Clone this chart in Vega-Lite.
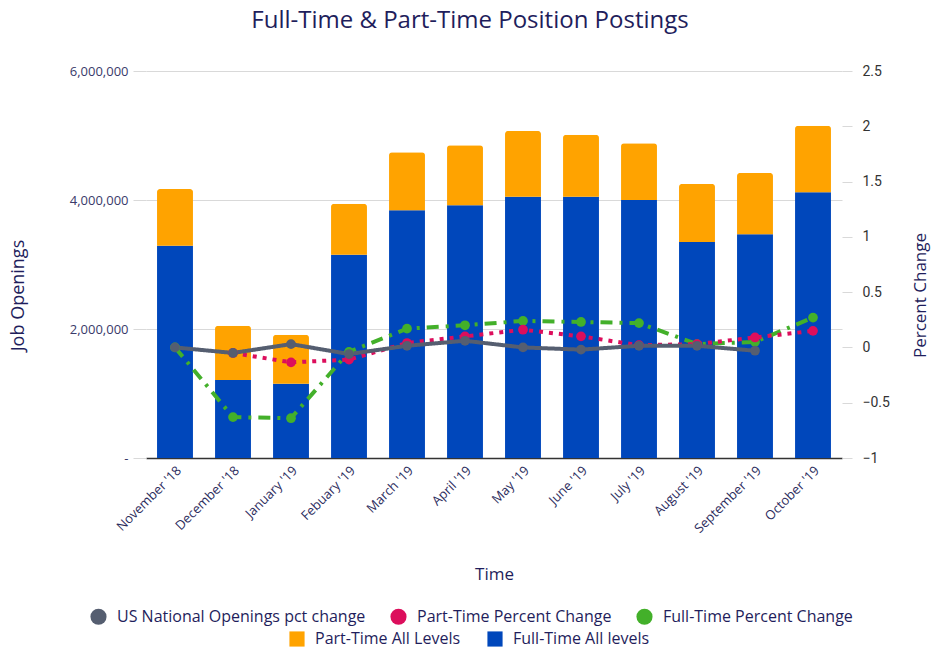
{
  "$schema": "https://vega.github.io/schema/vega-lite/v6.json",
  "width": 696,
  "height": 387,
  "autosize": {"type": "none"},
  "padding": {"left": 146, "top": 71, "right": 91, "bottom": 192},
  "background": "white",
  "config": {"view": {"stroke": null}, "font": "Open Sans"},
  "title": {"text": "Full-Time & Part-Time Position Postings", "fontSize": 24, "font": "Open Sans", "fontWeight": "normal", "color": "#1f1e5c", "offset": 31, "dx": -24, "anchor": "middle"},
  "datasets": {
    "bars": [
      {"month": "November '18", "type": "Full-Time All levels", "value": 3290000},
      {"month": "November '18", "type": "Part-Time All Levels", "value": 880000},
      {"month": "December '18", "type": "Full-Time All levels", "value": 1210000},
      {"month": "December '18", "type": "Part-Time All Levels", "value": 840000},
      {"month": "January '19", "type": "Full-Time All levels", "value": 1150000},
      {"month": "January '19", "type": "Part-Time All Levels", "value": 760000},
      {"month": "Febuary '19", "type": "Full-Time All levels", "value": 3150000},
      {"month": "Febuary '19", "type": "Part-Time All Levels", "value": 790000},
      {"month": "March '19", "type": "Full-Time All levels", "value": 3840000},
      {"month": "March '19", "type": "Part-Time All Levels", "value": 900000},
      {"month": "April '19", "type": "Full-Time All levels", "value": 3920000},
      {"month": "April '19", "type": "Part-Time All Levels", "value": 930000},
      {"month": "May '19", "type": "Full-Time All levels", "value": 4050000},
      {"month": "May '19", "type": "Part-Time All Levels", "value": 1020000},
      {"month": "June '19", "type": "Full-Time All levels", "value": 4050000},
      {"month": "June '19", "type": "Part-Time All Levels", "value": 960000},
      {"month": "July '19", "type": "Full-Time All levels", "value": 4000000},
      {"month": "July '19", "type": "Part-Time All Levels", "value": 880000},
      {"month": "August '19", "type": "Full-Time All levels", "value": 3350000},
      {"month": "August '19", "type": "Part-Time All Levels", "value": 900000},
      {"month": "September '19", "type": "Full-Time All levels", "value": 3470000},
      {"month": "September '19", "type": "Part-Time All Levels", "value": 950000},
      {"month": "October '19", "type": "Full-Time All levels", "value": 4120000},
      {"month": "October '19", "type": "Part-Time All Levels", "value": 1030000}
    ],
    "lines": [
      {"month": "November '18", "series": "Full-Time Percent Change", "pct": 0.0},
      {"month": "December '18", "series": "Full-Time Percent Change", "pct": -0.63},
      {"month": "January '19", "series": "Full-Time Percent Change", "pct": -0.64},
      {"month": "Febuary '19", "series": "Full-Time Percent Change", "pct": -0.04},
      {"month": "March '19", "series": "Full-Time Percent Change", "pct": 0.17},
      {"month": "April '19", "series": "Full-Time Percent Change", "pct": 0.2},
      {"month": "May '19", "series": "Full-Time Percent Change", "pct": 0.24},
      {"month": "June '19", "series": "Full-Time Percent Change", "pct": 0.23},
      {"month": "July '19", "series": "Full-Time Percent Change", "pct": 0.22},
      {"month": "August '19", "series": "Full-Time Percent Change", "pct": 0.03},
      {"month": "September '19", "series": "Full-Time Percent Change", "pct": 0.05},
      {"month": "October '19", "series": "Full-Time Percent Change", "pct": 0.27},
      {"month": "December '18", "series": "Part-Time Percent Change", "pct": -0.05},
      {"month": "January '19", "series": "Part-Time Percent Change", "pct": -0.135},
      {"month": "Febuary '19", "series": "Part-Time Percent Change", "pct": -0.11},
      {"month": "March '19", "series": "Part-Time Percent Change", "pct": 0.04},
      {"month": "April '19", "series": "Part-Time Percent Change", "pct": 0.1},
      {"month": "May '19", "series": "Part-Time Percent Change", "pct": 0.16},
      {"month": "June '19", "series": "Part-Time Percent Change", "pct": 0.1},
      {"month": "July '19", "series": "Part-Time Percent Change", "pct": 0.02},
      {"month": "August '19", "series": "Part-Time Percent Change", "pct": 0.03},
      {"month": "September '19", "series": "Part-Time Percent Change", "pct": 0.09},
      {"month": "October '19", "series": "Part-Time Percent Change", "pct": 0.15},
      {"month": "November '18", "series": "US National Openings pct change", "pct": 0.0},
      {"month": "December '18", "series": "US National Openings pct change", "pct": -0.05},
      {"month": "January '19", "series": "US National Openings pct change", "pct": 0.03},
      {"month": "Febuary '19", "series": "US National Openings pct change", "pct": -0.06},
      {"month": "March '19", "series": "US National Openings pct change", "pct": 0.015},
      {"month": "April '19", "series": "US National Openings pct change", "pct": 0.06},
      {"month": "May '19", "series": "US National Openings pct change", "pct": 0.0},
      {"month": "June '19", "series": "US National Openings pct change", "pct": -0.02},
      {"month": "July '19", "series": "US National Openings pct change", "pct": 0.015},
      {"month": "August '19", "series": "US National Openings pct change", "pct": 0.015},
      {"month": "September '19", "series": "US National Openings pct change", "pct": -0.03}
    ]
  },
  "encoding": {
    "x": {
      "field": "month", "type": "nominal", "sort": null,
      "scale": {"paddingInner": 0.38, "paddingOuter": 0.19},
      "axis": {"title": "Time", "labelAngle": -45, "labelFontSize": 13, "labelColor": "#2d2d5e", "titleFontSize": 17, "titleFontWeight": "normal", "titleColor": "#1f1e5c", "titlePadding": 31, "ticks": false, "domainColor": "#333333", "domainWidth": 1.5, "labelPadding": 6}
    }
  },
  "layer": [
    {
      "data": {"name": "bars"},
      "mark": {"type": "bar", "cornerRadiusEnd": 3},
      "encoding": {
        "y": {
          "field": "value", "type": "quantitative", "stack": "zero",
          "scale": {"domain": [0, 6000000], "nice": false},
          "axis": {"title": "Job Openings", "values": [0, 2000000, 4000000, 6000000], "labelExpr": "datum.value == 0 ? '-' : format(datum.value, ',')", "grid": true, "gridColor": "#d9d9d9", "domain": false, "tickSize": 13, "tickColor": "#d9d9d9", "labelPadding": 5, "labelFontSize": 13, "labelColor": "#3a3a6a", "titleFontSize": 18, "titleColor": "#1f1e5c", "titleFontWeight": "normal", "titlePadding": 42, "titleY": 224}
        },
        "order": {"field": "type", "sort": "ascending"},
        "color": {
          "field": "type", "type": "nominal",
          "scale": {"domain": ["Part-Time All Levels", "Full-Time All levels"], "range": ["#FFA300", "#0047BB"]},
          "legend": {"title": null, "orient": "none", "legendX": 143, "legendY": 560, "direction": "horizontal", "symbolType": "square", "symbolSize": 230, "symbolStrokeWidth": 0, "labelFontSize": 16, "labelLimit": 0, "labelColor": "#1f1e5c", "labelFont": "Open Sans", "columnPadding": 26, "labelOffset": 10}
        }
      }
    },
    {
      "data": {"name": "lines"},
      "encoding": {
        "y": {
          "field": "pct", "type": "quantitative",
          "scale": {"domain": [-1, 2.5], "nice": false},
          "axis": {"orient": "right", "title": "Percent Change", "titleAngle": 270, "values": [-1, -0.5, 0, 0.5, 1, 1.5, 2, 2.5], "format": "~g", "grid": false, "domain": false, "tickSize": 10, "tickColor": "#d9d9d9", "labelPadding": 10, "labelFont": "Roboto", "labelFontSize": 14, "labelColor": "#333333", "titleFontSize": 17, "titleColor": "#1f1e5c", "titleFontWeight": "normal", "titlePadding": 40, "titleY": 224}
        }
      },
      "layer": [
        {
          "mark": {"type": "line", "strokeWidth": 4, "strokeCap": "butt"},
          "encoding": {
            "stroke": {"field": "series", "type": "nominal", "scale": {"domain": ["Full-Time Percent Change", "Part-Time Percent Change", "US National Openings pct change"], "range": ["#43b02a", "#dc0e5c", "#555e70"]}, "legend": null},
            "strokeDash": {"field": "series", "type": "nominal", "scale": {"domain": ["Full-Time Percent Change", "Part-Time Percent Change", "US National Openings pct change"], "range": [[12, 7, 3, 7], [4, 6], [1, 0]]}, "legend": null}
          }
        },
        {
          "mark": {"type": "circle", "size": 95, "opacity": 1},
          "encoding": {
            "fill": {
              "field": "series", "type": "nominal",
              "scale": {"domain": ["US National Openings pct change", "Part-Time Percent Change", "Full-Time Percent Change"], "range": ["#555e70", "#dc0e5c", "#43b02a"]},
              "legend": {"title": null, "orient": "none", "legendX": -56, "legendY": 537, "direction": "horizontal", "symbolType": "circle", "symbolSize": 260, "symbolStrokeWidth": 0, "labelFontSize": 16, "labelLimit": 0, "labelColor": "#1f1e5c", "labelFont": "Open Sans", "columnPadding": 24, "labelOffset": 10}
            }
          }
        }
      ]
    }
  ],
  "resolve": {"scale": {"y": "independent"}}
}
